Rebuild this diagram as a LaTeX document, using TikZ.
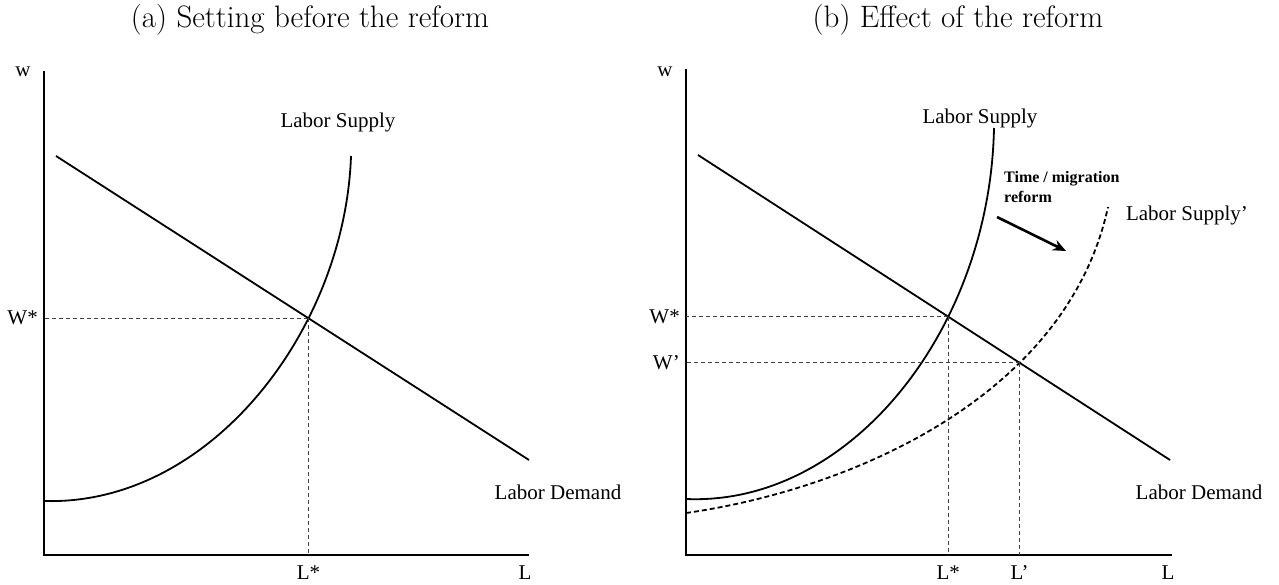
\documentclass[tikz,border=0pt]{standalone}
\usepackage{fontspec}
\newfontfamily\tms{Liberation Serif}
\usetikzlibrary{intersections,arrows.meta}
\begin{document}
\begin{tikzpicture}[x=1pt,y=-1pt,
  axis/.style={line width=2pt, line join=miter},
  curve/.style={line width=1.8pt},
  guide/.style={line width=0.8pt, dash pattern=on 4pt off 3pt, black!75},
  dcurve/.style={line width=1.8pt, dash pattern=on 5pt off 3pt},
  lbl/.style={font=\tms\fontsize{21}{24}\selectfont, inner sep=0pt},
  blbl/.style={font=\tms\bfseries\fontsize{16}{20}\selectfont, inner sep=0pt, align=left},
  ttl/.style={font=\fontsize{31}{36}\selectfont, inner sep=0pt},
  shiftarrow/.style={line width=2.6pt, -{Stealth[length=13pt,width=11pt]}},
]
\useasboundingbox (0,0) rectangle (1279,585);

% titles
\node[ttl] (ta) at (310,20) {(a) Setting before the reform};
\node[ttl] (tb) at (958,20) {(b) Effect of the reform};

% ---------- left panel ----------
\coordinate (o1) at (44,555);
\coordinate (y1) at (44,71);
\coordinate (x1) at (529,555);
\draw[axis] (y1) -- (o1) -- (x1);
\node[lbl] (w1) at (23,72) {w};
\node[lbl] (l1) at (525,573) {L};

\coordinate (d1s) at (56,156);
\coordinate (d1e) at (529,460);
\draw[curve, name path=d1] (d1s) -- (d1e);
\coordinate (s1s) at (44,501);
\coordinate (s1e) at (351,156);
\draw[curve, name path=s1] (s1s) .. controls (210,506) and (345,330) .. (s1e);
\path[name intersections={of=d1 and s1, by=e1}];
\draw[guide] (e1) -- (e1 -| o1);
\draw[guide] (e1) -- (e1 |- o1);
\node[lbl, anchor=east] (ws1) at ([xshift=-6pt]e1 -| o1) {W*};
\node[lbl] (ls1) at ([yshift=-18pt]e1 |- o1) {L*};
\node[lbl] (sup1) at (338,122) {Labor Supply};
\node[lbl] (dem1) at (558,492) {Labor Demand};

% ---------- right panel ----------
\coordinate (o2) at (686,555);
\coordinate (y2) at (686,69);
\coordinate (x2) at (1172,555);
\draw[axis] (y2) -- (o2) -- (x2);
\node[lbl] (w2) at (665,72) {w};
\node[lbl] (l2) at (1168,573) {L};

\coordinate (d2s) at (698,155);
\coordinate (d2e) at (1170,460);
\draw[curve, name path=d2] (d2s) -- (d2e);
\coordinate (s2s) at (686,499);
\coordinate (s2e) at (994,128);
\draw[curve, name path=s2] (s2s) .. controls (850,506) and (990,330) .. (s2e);
\coordinate (s3s) at (686,513);
\coordinate (s3e) at (1108,207);
\draw[dcurve, name path=s3] (s3s) .. controls (860,488) and (1068,392) .. (s3e);
\path[name intersections={of=d2 and s2, by=e2}];
\path[name intersections={of=d2 and s3, by=e3}];
\draw[guide] (e2) -- (e2 -| o2);
\draw[guide] (e2) -- (e2 |- o2);
\draw[guide] (e3) -- (e3 -| o2);
\draw[guide] (e3) -- (e3 |- o2);
\node[lbl, anchor=east] (ws2) at ([xshift=-6pt]e2 -| o2) {W*};
\node[lbl, anchor=east] (wp2) at ([xshift=-6pt]e3 -| o2) {W’};
\node[lbl] (ls2) at ([yshift=-18pt]e2 |- o2) {L*};
\node[lbl] (lp2) at ([yshift=-18pt]e3 |- o2) {L’};
\node[lbl] (sup2) at (980,118) {Labor Supply};
\node[lbl] (sup3) at (1187,215) {Labor Supply’};
\node[lbl] (dem2) at (1199,492) {Labor Demand};
\node[blbl, anchor=north west] (ref) at (1004,171) {Time / migration\\reform};
\coordinate (a0) at (997,217);
\coordinate (a1) at (1066,251);
\draw[shiftarrow] (a0) -- (a1);
\end{tikzpicture}
\end{document}
